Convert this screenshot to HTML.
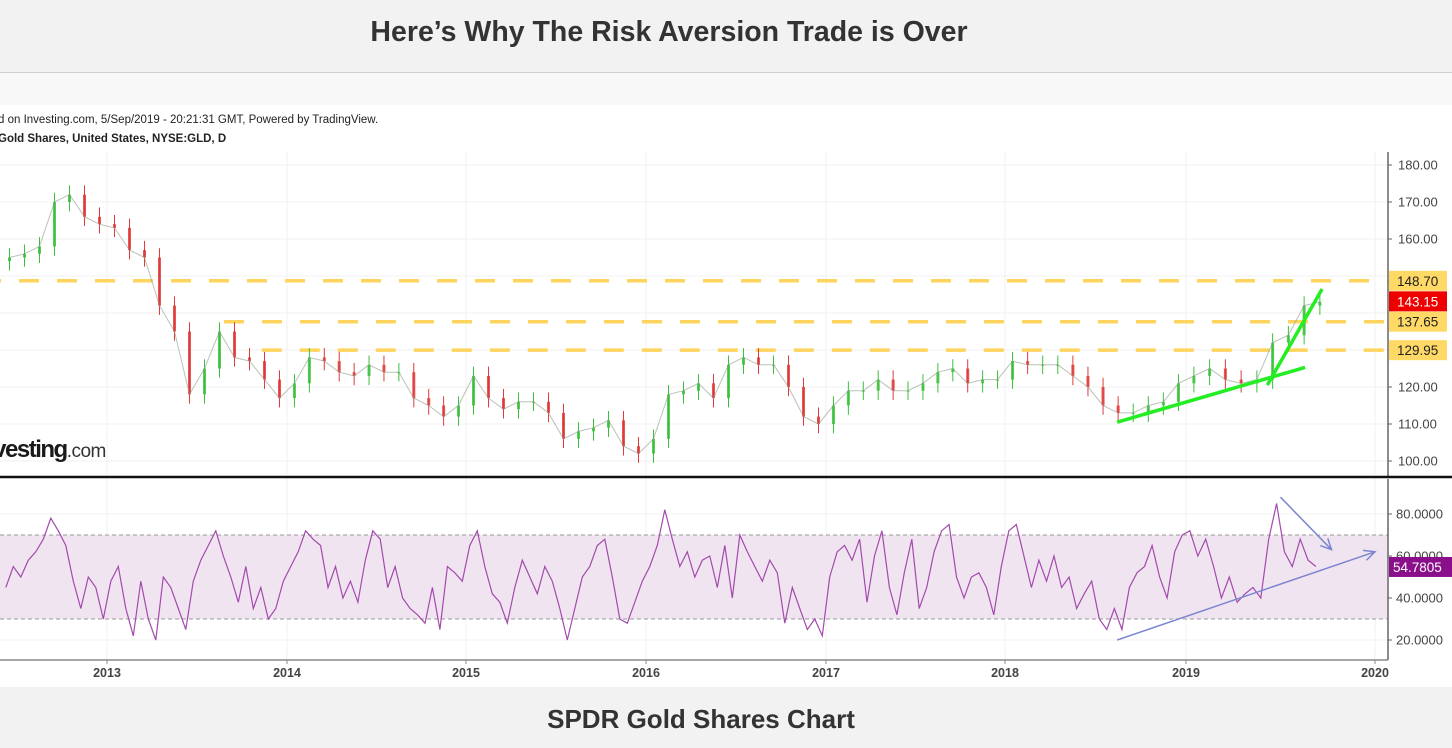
<!DOCTYPE html>
<html><head><meta charset="utf-8">
<style>
html,body{margin:0;padding:0;width:1452px;height:748px;overflow:hidden;background:#fff;font-family:"Liberation Sans",sans-serif}
#top{position:absolute;left:0;top:0;width:1452px;height:72px;background:#f2f2f2;border-bottom:1px solid #cfcfcf}
#title{position:absolute;left:0;width:1338px;top:16px;text-align:center;font-size:28.5px;font-weight:bold;color:#333}
#strip{position:absolute;left:0;top:73px;width:1452px;height:32px;background:#f8f8f8}
#bottom{position:absolute;left:0;top:687px;width:1452px;height:61px;background:#f2f2f2}
#caption{position:absolute;left:0;width:1402px;top:17px;text-align:center;font-size:26px;font-weight:bold;color:#333}
svg{position:absolute;left:0;top:105px}
</style></head><body>
<div id="top"><div id="title">Here’s Why The Risk Aversion Trade is Over</div></div>
<div id="strip"></div>
<svg id="chart" width="1452" height="582" viewBox="0 105 1452 582">
<text x="-2" y="123" font-size="11.5" fill="#222">d on Investing.com, 5/Sep/2019 - 20:21:31 GMT, Powered by TradingView.</text>
<text x="-2" y="142" font-size="11.5" font-weight="bold" fill="#222">Gold Shares, United States, NYSE:GLD, D</text>
<g id="grid"></g>
<g id="levels"></g>
<g id="candles"></g>
<g id="rsi"></g>
<g id="axes"></g>
<text x="-20" y="457" font-size="24" font-weight="bold" fill="#1a1a1a" letter-spacing="-1.5">nvesting<tspan font-weight="normal" font-size="19" fill="#333" letter-spacing="-0.5">.com</tspan></text>
</svg>
<div id="bottom"><div id="caption">SPDR Gold Shares Chart</div></div>
<script>
// monthly closes starting Jun 2012
const priceCloses=[155,156,158,170,172,166,164,
163,157,155,142,135,118,125,135,128,127,122,117,
121,128,127,124,123,126,124,124,117,115,112,115,
123,117,114,116,116,113,106,108,109,111,104,102,
106,118,119,121,117,126,128,126,126,120,112,110,
115,119,119,122,119,119,121,124,125,121,122,122,
127,126,126,126,123,120,115,113,113,115,116,121,
123,125,122,121,122,132,134,142,143];
// semi-monthly RSI starting Jun 2012
const rsiValues=[45,55,50,58,62,68,78,72,65,48,35,50,45,30,
48,55,35,22,48,30,20,50,45,35,25,48,58,65,72,60,50,38,55,35,45,30,35,48,
55,62,72,68,65,45,55,40,48,38,58,72,68,45,55,40,35,32,28,45,25,55,52,48,
65,72,55,42,38,28,45,58,50,42,55,48,35,20,35,50,55,65,68,50,30,28,38,48,
55,65,82,68,55,62,50,58,60,45,65,40,70,62,55,48,58,52,28,45,35,25,30,22,
50,62,65,58,68,38,60,72,45,32,52,68,35,45,62,72,75,50,40,50,52,45,32,55,
72,75,60,45,58,48,60,45,50,35,42,48,30,25,35,25,45,52,55,65,50,40,62,70,
72,60,68,55,40,50,38,42,45,40,68,85,62,55,68,58,55];
const priceTicks=[100,110,120,130,140,150,160,170,180];
const priceTickLabels=["100.00","110.00","120.00","","","","160.00","170.00","180.00"];
const levelValues=[148.70,137.65,129.95];
const levelStartYears=[2012.3,2013.65,2013.86];
const lastPrice=143.15;
const rsiTicks=[20,40,60,80];
const rsiTickLabels=["20.0000","40.0000","60.0000","80.0000"];
const lastRsi=54.7805;
const yearTicks=[2013,2014,2015,2016,2017,2018,2019,2020];
const yearTickLabels=["2013","2014","2015","2016","2017","2018","2019","2020"];
const yearPx=[107,287,466,646,826,1005,1186,1375];
const greenLines=[[2018.62,110.5,2019.63,125.3],[2019.43,120.5,2019.72,146.5]];
const blueArrows=[[2018.62,20,2020,62],[2019.5,88,2019.77,63]];

const NS="http://www.w3.org/2000/svg";
function X(t){for(let i=0;i<yearTicks.length-1;i++){if(t<=yearTicks[i+1]||i==yearTicks.length-2){return yearPx[i]+(t-yearTicks[i])*(yearPx[i+1]-yearPx[i]);}}}
function Yp(v){return 165+(180-v)*3.7;}
function Yr(v){return 514+(80-v)*2.1;}
function mk(tag,attrs,parent){const e=document.createElementNS(NS,tag);for(const k in attrs)e.setAttribute(k,attrs[k]);parent.appendChild(e);return e;}
const AX=1388;
const grid=document.getElementById('grid');
priceTicks.forEach(v=>{const l=mk('line',{x1:0,x2:AX,y1:Yp(v),y2:Yp(v),stroke:'#f0f0f0'},grid);

});
rsiTicks.forEach(v=>{const l=mk('line',{x1:0,x2:AX,y1:Yr(v),y2:Yr(v),stroke:'#f0f0f0'},grid);

});
yearTicks.forEach(t=>{const x=X(t);const l=mk('line',{x1:x,x2:x,y1:152,y2:660,stroke:'#f0f0f0'},grid);

});
const band=mk('rect',{x:0,y:Yr(70),width:AX,height:Yr(30)-Yr(70),fill:'#f1e4f1'},grid);


[70,30].forEach(v=>{const l=mk('line',{x1:0,x2:AX,y1:Yr(v),y2:Yr(v),stroke:'#999','stroke-dasharray':'4,3'},grid);

});
const lv=document.getElementById('levels');
levelValues.forEach((v,i)=>{const l=mk('line',{x1:X(levelStartYears[i]),x2:AX,y1:Yp(v),y2:Yp(v),stroke:'#ffd45e','stroke-width':3.5,'stroke-dasharray':'20,18'},lv);

});
const cg=document.getElementById('candles');
const t0=2012+5/12;
priceCloses.forEach((c,i)=>{
 const o=i==0?c-1:priceCloses[i-1];
 const t=t0+(i+0.5)/12;const x=X(t);
 const hi=Math.max(o,c)+2.5,lo=Math.min(o,c)-2.5;
 const col=c>=o?'#3cbf3c':'#e03a3a';
 const w=mk('line',{x1:x,x2:x,y1:Yp(hi),y2:Yp(lo),stroke:col,'stroke-width':1},cg);
 
 
 const b=mk('rect',{x:x-1.5,y:Yp(Math.max(o,c)),width:3,height:Math.max(1,Math.abs(Yp(o)-Yp(c))),fill:col,opacity:0.85},cg);
 
 
});
const pl=mk('polyline',{points:priceCloses.map((c,i)=>X(t0+(i+0.5)/12).toFixed(1)+','+Yp(c).toFixed(1)).join(' '),fill:'none',stroke:'#8a9a8a','stroke-width':1,opacity:0.6},cg);


greenLines.forEach(g=>{const l=mk('line',{x1:X(g[0]),y1:Yp(g[1]),x2:X(g[2]),y2:Yp(g[3]),stroke:'#22ee22','stroke-width':3.5},cg);

});
const rg=document.getElementById('rsi');
const pts=rsiValues.map((v,j)=>X(t0+(j+0.5)/24).toFixed(1)+','+Yr(v).toFixed(1)).join(' ');
const rl=mk('polyline',{points:pts,fill:'none',stroke:'#a34aad','stroke-width':1.2},rg);


blueArrows.forEach(a=>{const x1=X(a[0]),y1=Yr(a[1]),x2=X(a[2]),y2=Yr(a[3]);
 const ang=Math.atan2(y2-y1,x2-x1);
 const h1=[x2-12*Math.cos(ang-0.45),y2-12*Math.sin(ang-0.45)],h2=[x2-12*Math.cos(ang+0.45),y2-12*Math.sin(ang+0.45)];
 const p=mk('path',{d:`M${x1},${y1}L${x2},${y2}M${h1[0]},${h1[1]}L${x2},${y2}L${h2[0]},${h2[1]}`,fill:'none',stroke:'#7b86d0','stroke-width':1.5},rg);
 
 });
const ag=document.getElementById('axes');
mk('line',{x1:AX,x2:AX,y1:152,y2:476,stroke:'#666','stroke-width':1.5},ag);
mk('line',{x1:AX,x2:AX,y1:479,y2:660,stroke:'#666','stroke-width':1.5},ag);
mk('line',{x1:0,x2:1452,y1:477,y2:477,stroke:'#111','stroke-width':2.5},ag);
mk('line',{x1:0,x2:AX,y1:660,y2:660,stroke:'#888','stroke-width':1.5},ag);
priceTicks.forEach((v,i)=>{if(!priceTickLabels[i])return;
 mk('line',{x1:AX,x2:AX+4,y1:Yp(v),y2:Yp(v),stroke:'#666'},ag);
 const t=mk('text',{x:AX+10,y:Yp(v)+4.5,'font-size':13,fill:'#444'},ag);t.textContent=priceTickLabels[i];
 
 });
function tag(v,y,bg,fg,name){const r=mk('rect',{x:AX+1,y:y-10,width:58,height:20,fill:bg},ag);
 
 
 const t=mk('text',{x:AX+9,y:y+5,'font-size':13.5,fill:fg},ag);t.textContent=v;
 
 }
levelValues.forEach(v=>tag(v.toFixed(2),Yp(v),'#ffd966','#222','level-label'));
tag(lastPrice.toFixed(2),Yp(lastPrice),'#ee0000','#fff','last-price-label');
rsiTicks.forEach((v,i)=>{mk('line',{x1:AX,x2:AX+4,y1:Yr(v),y2:Yr(v),stroke:'#666'},ag);
 const t=mk('text',{x:AX+8,y:Yr(v)+4.5,'font-size':13,fill:'#444'},ag);t.textContent=rsiTickLabels[i];
 
 });
(function(){const y=Yr(lastRsi);const r=mk('rect',{x:AX+1,y:y-10,width:64,height:20,fill:'#8a0f8a'},ag);
 
 
 const t=mk('text',{x:AX+5,y:y+5,'font-size':13.5,fill:'#fff'},ag);t.textContent=lastRsi.toFixed(4);
 
 })();
yearTicks.forEach((yv,i)=>{const x=X(yv);mk('line',{x1:x,x2:x,y1:660,y2:664,stroke:'#888'},ag);
 const t=mk('text',{x:x,y:677,'font-size':12.5,'font-weight':'bold',fill:'#444','text-anchor':'middle'},ag);t.textContent=yearTickLabels[i];
 
 });
</script>
</body></html>
